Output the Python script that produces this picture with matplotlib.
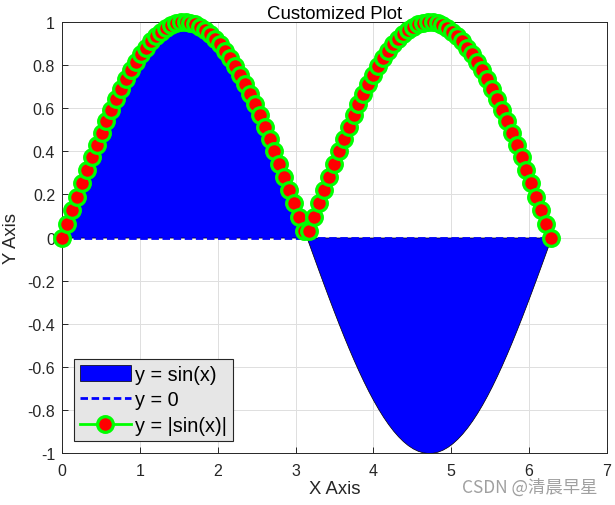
import numpy as np
import matplotlib
matplotlib.use("Agg")
import matplotlib.pyplot as plt

n_points = 100
x = np.linspace(0, 2 * np.pi, n_points)
y_sin = np.sin(x)
y_zero = np.zeros_like(x)
y_abs = np.abs(np.sin(x))

title = "Customized Plot"
xlabel = "X Axis"
ylabel = "Y Axis"
labels = ["y = sin(x)", "y = 0", "y = |sin(x)|"]
xticks = [0, 1, 2, 3, 4, 5, 6, 7]
yticks = [-1, -0.8, -0.6, -0.4, -0.2, 0, 0.2, 0.4, 0.6, 0.8, 1]
ytick_labels = ["-1", "-0.8", "-0.6", "-0.4", "-0.2", "0", "0.2", "0.4", "0.6", "0.8", "1"]

plt.rcParams['font.family'] = ['Liberation Sans', 'DejaVu Sans']

fig = plt.figure(figsize=(6.15, 5.06), dpi=100)
ax = fig.add_axes([62/615, 1 - 454/506, (607-62)/615, (454-23)/506])

ax.fill_between(x, y_sin, 0, facecolor='#0000ff', edgecolor='black', linewidth=0.5,
                label=labels[0], zorder=2)
ax.plot(x, y_zero, color='#0000ff', linestyle=(0, (2.7, 1.3)), linewidth=2,
        label=labels[1], zorder=3)
ax.plot(x, y_abs, color='#00ff00', linewidth=2, marker='o', markersize=11.3,
        markerfacecolor='#ff0000', markeredgecolor='#00ff00', markeredgewidth=2.3,
        label=labels[2], zorder=4, clip_on=False)

ax.set_xlim(0, 7)
ax.set_ylim(-1, 1)
ax.set_xticks(xticks)
ax.set_yticks(yticks)
ax.set_yticklabels(ytick_labels)
ax.grid(True, color='#dfdfdf', linewidth=0.7)
ax.set_axisbelow(True)
ax.tick_params(direction='in', length=4, width=0.7, colors='#262626', labelsize=11.5,
               top=False, right=False)
ax.tick_params(axis='x', pad=7)
ax.tick_params(axis='y', pad=5)
for s in ax.spines.values():
    s.set_color('#262626')
    s.set_linewidth(0.7)

ax.set_title(title, fontsize=13.4, color='#000000', pad=3)
ax.set_xlabel(xlabel, fontsize=13.3, color='#262626', labelpad=2)
ax.set_ylabel(ylabel, fontsize=13.3, color='#262626', labelpad=5)

leg = ax.legend(loc='lower left', fontsize=14.3, fancybox=False, framealpha=1,
                facecolor='#e6e6e6', edgecolor='#262626', borderpad=0.3,
                handlelength=2.55, handleheight=0.9, handletextpad=0.25,
                labelspacing=0.33, borderaxespad=0.6)
leg.get_frame().set_linewidth(0.8)

fig.text(598/615, 1 - 488/506, "CSDN @清晨早星", ha='right', va='center', fontsize=12.5,
         color='#a0a0a0', family=['Noto Sans CJK SC', 'DejaVu Sans'])

fig.savefig("out.png", dpi=100, facecolor='white')
